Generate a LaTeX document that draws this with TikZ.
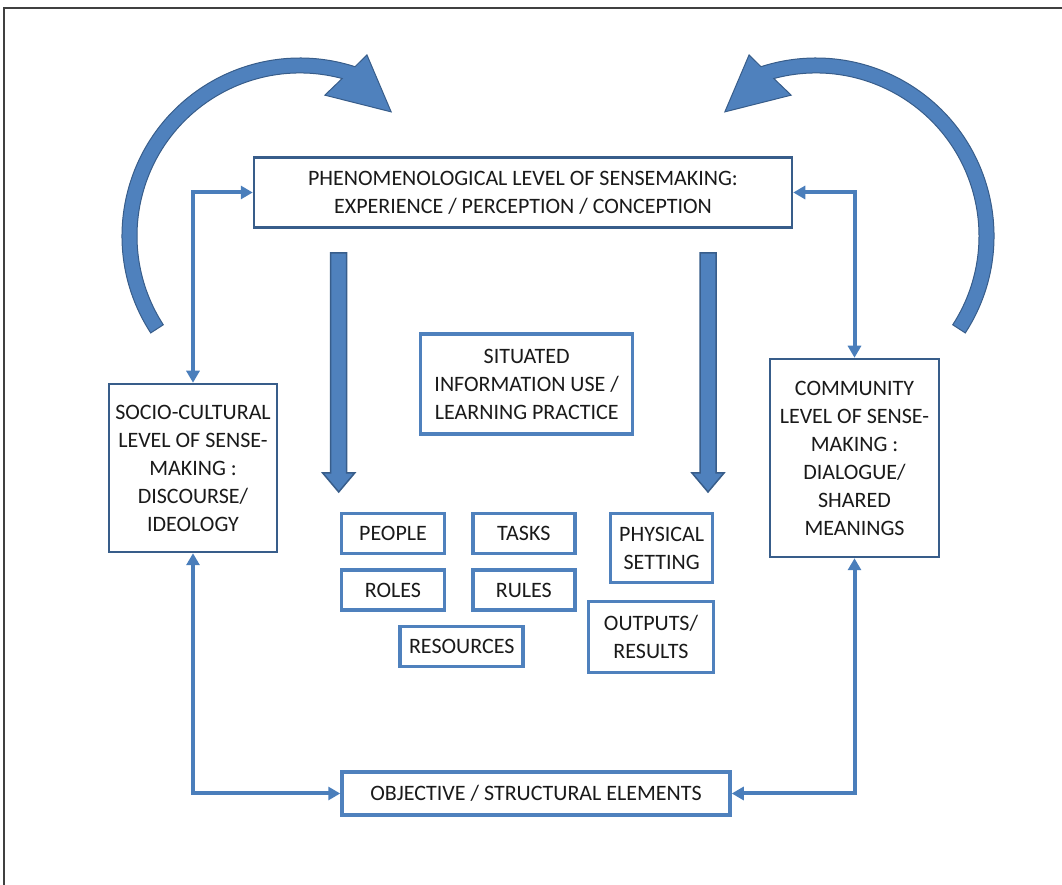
\documentclass[tikz,border=0pt]{standalone}
\usepackage{fontspec}
\setmainfont{Carlito}
\usetikzlibrary{arrows.meta,calc}

\definecolor{boxline}{HTML}{385D8A}
\definecolor{accent}{HTML}{4F81BD}
\definecolor{linkblue}{HTML}{4A7EBB}
\definecolor{framegray}{HTML}{404040}
\definecolor{ink}{HTML}{1A1A1A}

\tikzset{
  basebox/.style={fill=white, align=center, inner sep=0pt, text=ink,
    font=\fontsize{22}{28}\selectfont},
  lvlbox/.style={basebox, draw=boxline, line width=2.5pt},
  elembox/.style={basebox, draw=accent, line width=3.5pt},
  link/.style={draw=linkblue, line width=4pt,
    {Triangle[length=12pt,width=13pt]}-{Triangle[length=12pt,width=13pt]}},
  cycarrow/.style={fill=accent, draw=boxline, line width=1pt},
  droparrow/.style={fill=accent, draw=boxline, line width=1.5pt},
}

% thick downward block arrow: #1 = centre x, #2 = top y, #3 = tip y
\newcommand\blockdown[3]{%
  \draw[droparrow] (#1-8,#2) -- (#1+8,#2) -- (#1+8,#3+19) -- (#1+16,#3+19)
    -- (#1,#3) -- (#1-16,#3+19) -- (#1-8,#3+19) -- cycle;}

\begin{document}
\begin{tikzpicture}[x=1pt,y=1pt]
\useasboundingbox (0,0) rectangle (1062,885);

% page frame
\draw[framegray, line width=2pt] (4,-10) -- (4,877) -- (1080,877);

% level boxes
\node[lvlbox, minimum width=538pt, minimum height=70pt] (phen) at (523,692.5)
  {PHENOMENOLOGICAL LEVEL OF SENSEMAKING:\\EXPERIENCE / PERCEPTION / CONCEPTION};
\node[lvlbox, minimum width=168pt, minimum height=168pt] (socio) at (193,417)
  {SOCIO-CULTURAL\\LEVEL OF SENSE-\\MAKING :\\DISCOURSE/\\IDEOLOGY};
\node[lvlbox, minimum width=169pt, minimum height=198pt] (comm) at (854.5,427)
  {COMMUNITY\\LEVEL OF SENSE-\\MAKING :\\DIALOGUE/\\SHARED\\MEANINGS};
\node[elembox, minimum width=388pt, minimum height=43pt] (obj) at (536,91.5)
  {OBJECTIVE / STRUCTURAL ELEMENTS};

% practice and its elements
\node[elembox, minimum width=212pt, minimum height=100pt] (situ) at (526.7,501)
  {SITUATED\\INFORMATION USE /\\LEARNING PRACTICE};
\node[elembox, minimum width=103pt, minimum height=40pt] (people) at (393,351.7) {PEOPLE};
\node[elembox, minimum width=102pt, minimum height=40pt] (tasks) at (523.8,351.7) {TASKS};
\node[elembox, minimum width=103pt, minimum height=40pt] (roles) at (393,295) {ROLES};
\node[elembox, minimum width=102pt, minimum height=40pt] (rules) at (523.8,295) {RULES};
\node[elembox, minimum width=123pt, minimum height=40pt] (resources) at (461.7,238.3) {RESOURCES};
\node[elembox, minimum width=102pt, minimum height=69pt] (physical) at (661.7,337) {PHYSICAL\\SETTING};
\node[elembox, minimum width=125pt, minimum height=71pt] (outputs) at (651,247.8) {OUTPUTS/\\RESULTS};

% two-way links between the levels
\draw[link] (socio.north) |- (phen.west);
\draw[link] (phen.east) -| (comm.north);
\draw[link] (socio.south) |- (obj.west);
\draw[link] (comm.south) |- (obj.east);

% downward block arrows
\blockdown{338.7}{632}{393}
\blockdown{708}{632}{393}

% circular arrows
\coordinate (cL) at (300,649);
\coordinate (cR) at (816,649);
\draw[cycarrow] ($(cL)+(213:178pt)$) arc[start angle=213, end angle=72, radius=178pt]
  -- ($(cL)+(69.7:193pt)$) -- ($(cL)+(53.7:154pt)$) -- ($(cL)+(80:143pt)$)
  -- ($(cL)+(75:163pt)$) arc[start angle=75, end angle=213, radius=163pt] -- cycle;
\draw[cycarrow] ($(cR)+(-33:178pt)$) arc[start angle=-33, end angle=108, radius=178pt]
  -- ($(cR)+(110.3:193pt)$) -- ($(cR)+(126.3:154pt)$) -- ($(cR)+(100:143pt)$)
  -- ($(cR)+(105:163pt)$) arc[start angle=105, end angle=-33, radius=163pt] -- cycle;
\end{tikzpicture}
\end{document}
